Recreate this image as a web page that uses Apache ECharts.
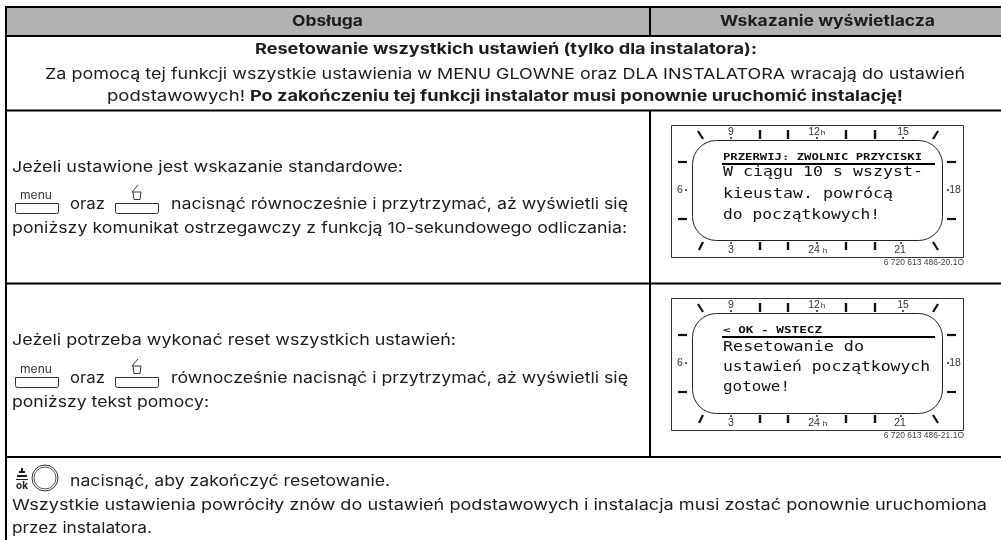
<!DOCTYPE html>
<html><head><meta charset="utf-8">
<style>html,body{margin:0;padding:0;background:#fff}#c{width:1001px;height:540px}</style>
<script src="https://cdn.jsdelivr.net/npm/echarts@6/dist/echarts.min.js"></script>
</head><body><div id="c"></div>
<script>
const headers = ["Obsługa", "Wskazanie wyświetlacza"];
const resetTitle = "Resetowanie wszystkich ustawień (tylko dla instalatora):";
const resetLine2 = "Za pomocą tej funkcji wszystkie ustawienia w MENU GLOWNE oraz DLA INSTALATORA wracają do ustawień";
const resetLine3a = "podstawowych!";
const resetLine3b = "Po zakończeniu tej funkcji instalator musi ponownie uruchomić instalację!";
const row2Lines = ["Jeżeli ustawione jest wskazanie standardowe:", "nacisnąć równocześnie i przytrzymać, aż wyświetli się", "poniższy komunikat ostrzegawczy z funkcją 10-sekundowego odliczania:"];
const row3Lines = ["Jeżeli potrzeba wykonać reset wszystkich ustawień:", "równocześnie nacisnąć i przytrzymać, aż wyświetli się", "poniższy tekst pomocy:"];
const row4Lines = ["nacisnąć, aby zakończyć resetowanie.", "Wszystkie ustawienia powróciły znów do ustawień podstawowych i instalacja musi zostać ponownie uruchomiona", "przez instalatora."];
const btnMenu = "menu", btnAnd = "oraz", okLabel = "ok";
const display1Head = "PRZERWIJ: ZWOLNIC PRZYCISKI";
const display1Lines = ["W ciągu 10 s wszyst-", "kieustaw. powrócą", "do początkowych!"];
const display1Code = "6 720 613 486-20.1O";
const display2Head = "< OK - WSTECZ";
const display2Lines = ["Resetowanie do", "ustawień początkowych", "gotowe!"];
const display2Code = "6 720 613 486-21.1O";
const hourTop = ["9", "12", "15"], hourBottom = ["3", "24", "21"], hourSide = ["6", "18"], hourUnit = "h";

const FONT = 'Inter, "Noto Sans", sans-serif';
const INK = '#1c1c1c';
const ctx = document.createElement('canvas').getContext('2d');
const els = [];
function txt(s, x, y, o) {
  o = o || {};
  const size = o.size || 15, weight = o.weight || 'normal', family = o.family || FONT;
  let sx = 1;
  if (o.w) { ctx.font = weight + ' ' + size + 'px ' + family; sx = o.w / ctx.measureText(s).width; }
  els.push({ type: 'text', x: x, y: y, scaleX: sx, silent: true,
    style: { text: s, x: 0, y: 0, fill: o.color || INK, font: weight + ' ' + size + 'px ' + family,
      textAlign: o.align || 'left', textVerticalAlign: 'middle' } });
}
function line(x1, y1, x2, y2, w, c) {
  els.push({ type: 'line', silent: true, shape: { x1, y1, x2, y2 }, style: { stroke: c || '#000', lineWidth: w || 2, lineCap: 'butt' } });
}
function rect(x, y, w, h, o) {
  els.push({ type: 'rect', silent: true, shape: { x, y, width: w, height: h, r: o.r || 0 },
    style: { fill: o.fill || 'none', stroke: o.stroke || 'none', lineWidth: o.lw || 1 } });
}

// table frame
rect(7, 8, 994, 27, { fill: '#b2b2b2' });
line(5, 7, 1001, 7, 2);
line(5, 36, 1001, 36, 2);
line(5, 110.5, 1001, 110.5, 2);
line(5, 283.5, 1001, 283.5, 2);
line(5, 457, 1001, 457, 2);
line(6, 6, 6, 540, 2);
line(650, 6, 650, 36, 2);
line(650, 110, 650, 457, 2);

txt(headers[0], 292, 21, { weight: 'bold', size: 15, w: 71 });
txt(headers[1], 720, 21, { weight: 'bold', size: 15, w: 215 });
txt(resetTitle, 255, 49.5, { weight: 'bold', size: 15, w: 502 });
txt(resetLine2, 45, 74, { size: 15, w: 920 });
txt(resetLine3a, 107, 96.5, { size: 15, w: 138 });
txt(resetLine3b, 250, 96.5, { weight: 'bold', size: 15, w: 653 });

function keys(y) {
  txt(btnMenu, 20, y - 7, { size: 11, w: 32, color: '#333' });
  els.push({ type: 'rect', silent: true, shape: { x: 15.5, y: y + .5, width: 43, height: 10, r: [0, 0, 2, 2] }, style: { fill: 'none', stroke: '#333', lineWidth: 1 } });
  txt(btnAnd, 70, y + 1.5, { w: 35 });
  els.push({ type: 'rect', silent: true, shape: { x: 115.5, y: y + .5, width: 43, height: 10, r: [0, 0, 2, 2] }, style: { fill: 'none', stroke: '#333', lineWidth: 1 } });
  els.push({ type: 'polyline', silent: true, shape: { points: [[133, y - 11], [134, y - 3.5], [140, y - 3.5], [141, y - 11]] }, style: { fill: 'none', stroke: '#333', lineWidth: 1 } });
  line(132, y - 11, 141, y - 11, 1, '#333');
  line(132, y - 11, 138, y - 18, 1, '#333');
}
txt(row2Lines[0], 12, 167, { w: 391 });
keys(203);
txt(row2Lines[1], 171, 204.5, { w: 457 });
txt(row2Lines[2], 12, 228.5, { w: 615 });

txt(row3Lines[0], 12, 340.5, { w: 444 });
keys(377);
txt(row3Lines[1], 171, 378.5, { w: 457 });
txt(row3Lines[2], 12, 402.5, { w: 197 });

// ok key
txt(okLabel, 16, 486, { size: 10, weight: 'bold', w: 12 });
line(19, 472, 25, 472, 2, INK); line(17, 476, 27, 476, 2, INK); line(16, 479.5, 28, 479.5, 1, INK);
line(22, 468, 22, 472, 2, INK);
els.push({ type: 'circle', silent: true, shape: { cx: 45, cy: 478, r: 13 }, style: { fill: 'none', stroke: '#333', lineWidth: 1 } });
els.push({ type: 'circle', silent: true, shape: { cx: 45, cy: 478, r: 11 }, style: { fill: 'none', stroke: '#555', lineWidth: 1 } });
txt(row4Lines[0], 70, 481, { w: 320 });
txt(row4Lines[1], 12, 505.5, { w: 975 });
txt(row4Lines[2], 12, 528.5, { w: 140 });

// LCD display
const MONO = '"DejaVu Sans Mono", monospace', SMALL = '"Liberation Sans", sans-serif';
function display(y0, head, headW, lines, widths, code, lineYs) {
  rect(671.5, y0 + .5, 292, 132, { stroke: '#333', lw: 1 });
  rect(692.5, y0 + 15.5, 250, 100, { stroke: '#222', lw: 1, r: 24 });
  [760, 788, 846, 875].forEach(x => { line(x, y0 + 5, x, y0 + 14, 2.4, '#111'); line(x, y0 + 117, x, y0 + 125, 2.4, '#111'); });
  line(698, y0 + 6, 703, y0 + 14, 2.2, '#111'); line(933, y0 + 14, 938, y0 + 6, 2.2, '#111');
  line(699, y0 + 125, 703, y0 + 117, 2.2, '#111'); line(933, y0 + 117, 938, y0 + 125, 2.2, '#111');
  [37, 94].forEach(d => { line(678, y0 + d, 687, y0 + d, 2.2, '#111'); line(947, y0 + d, 956, y0 + d, 2.2, '#111'); });
  const sz = { size: 10.5, family: SMALL, color: '#333', align: 'center' };
  const dots = [731, 817, 903];
  hourTop.forEach((t, i) => {
    txt(t, dots[i] - (i === 1 ? 3 : 0), y0 + 7, sz);
    els.push({ type: 'circle', silent: true, shape: { cx: dots[i], cy: y0 + 13, r: 1 }, style: { fill: '#222' } });
  });
  hourBottom.forEach((t, i) => {
    txt(t, [731, 814, 900][i], y0 + 125, sz);
    els.push({ type: 'circle', silent: true, shape: { cx: dots[i] - (i === 2 ? 2 : 0), cy: y0 + 118, r: 1 }, style: { fill: '#222' } });
  });
  txt(hourUnit, 823, y0 + 8, { size: 8, family: SMALL, color: '#333', align: 'center' });
  txt(hourUnit, 825, y0 + 126, { size: 8, family: SMALL, color: '#333', align: 'center' });
  txt(hourSide[0], 680, y0 + 65, sz);
  els.push({ type: 'circle', silent: true, shape: { cx: 686, cy: y0 + 65, r: 1 }, style: { fill: '#222' } });
  txt(hourSide[1], 955, y0 + 65, sz);
  els.push({ type: 'circle', silent: true, shape: { cx: 948, cy: y0 + 65, r: 1 }, style: { fill: '#222' } });
  txt(head, 723, y0 + 33, { size: 9, weight: 'bold', family: MONO, w: headW, color: '#111' });
  line(722, y0 + 39, 935, y0 + 39, 2.2, '#000');
  lines.forEach((t, i) => txt(t, 723, y0 + lineYs[i], { size: 14, family: MONO, w: widths[i], color: '#111' }));
  txt(code, 964, y0 + 138, { size: 8.5, family: SMALL, align: 'right', color: '#444' });
}
display(125, display1Head, 199, display1Lines, [200, 170, 157], display1Code, [47, 69, 90]);
display(298, display2Head, 99, display2Lines, [141, 207, 67], display2Code, [49, 69, 89]);

const chart = echarts.init(document.getElementById('c'), null, { renderer: 'canvas' });
chart.setOption({ animation: false, backgroundColor: '#fff', graphic: { elements: els } });
</script></body></html>
